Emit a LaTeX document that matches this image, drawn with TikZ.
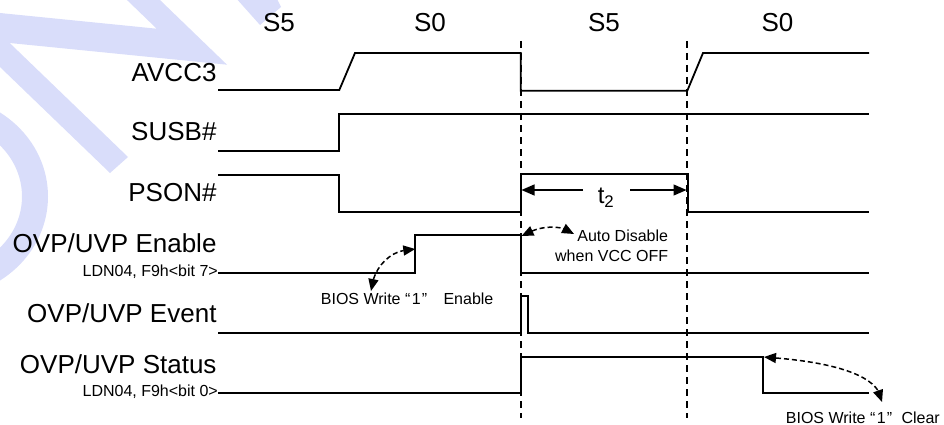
\documentclass[tikz,border=0pt]{standalone}
\usepackage{fontspec}
\setmainfont{Liberation Sans}
\usetikzlibrary{arrows.meta}
\definecolor{wm}{RGB}{217,221,250}
\tikzset{
  wave/.style={line width=1.8pt, line join=miter},
  guide/.style={line width=1.8pt, dash pattern=on 7pt off 5pt},
  note/.style={line width=1.5pt, dash pattern=on 5pt off 3pt},
  notetip/.style={line width=1.5pt, solid, -{Triangle[length=12pt,width=10pt]}},
  dim/.style={line width=1.3pt, -{Triangle[length=13pt,width=11pt]}},
  big/.style={font=\fontsize{26}{30}\selectfont, inner sep=0pt},
  small/.style={font=\fontsize{16}{19.3}\selectfont, inner sep=0pt},
}
\begin{document}
\begin{tikzpicture}[x=1pt,y=-1pt]
\useasboundingbox (0,0) rectangle (944,425);
% watermark
\begin{scope}
\clip (0,0) rectangle (944,425);
\fill[wm] (-5,12.5) -- (156.7,28.7) -- (121.8,-5) -- (154.8,-5) -- (227,64.7)
  -- (9.7,43) -- (128,157) -- (110,173) -- (-5,62.2) -- cycle;
\fill[wm] (235,-3) -- (276,-3) -- (281,7) -- (260,25) -- cycle;
\draw[wm, line width=26pt] (-60,196.5) ellipse [x radius=95, y radius=88];
\end{scope}
% state labels
\node[big, anchor=base] (s5a) at (279,32) {S5};
\node[big, anchor=base] (s0a) at (430,32) {S0};
\node[big, anchor=base] (s5b) at (604,32) {S5};
\node[big, anchor=base] (s0b) at (777.5,32) {S0};
% signal labels
\node[big, anchor=base east] (avcc) at (216.7,81.7) {AVCC3};
\node[big, anchor=base east] (susb) at (216.7,140.3) {SUSB\#};
\node[big, anchor=base east] (pson) at (216.7,201.3) {PSON\#};
\node[big, anchor=base east] (ena) at (216.7,252.5) {OVP/UVP Enable};
\node[small, anchor=base east] (enareg) at (218,276) {LDN04, F9h<bit 7>};
\node[big, anchor=base east] (evt) at (216.7,322.3) {OVP/UVP Event};
\node[big, anchor=base east] (sts) at (216.7,373) {OVP/UVP Status};
\node[small, anchor=base east] (stsreg) at (218,396.5) {LDN04, F9h<bit 0>};
% guides
\draw[guide] (520.7,41) -- (520.7,418);
\draw[guide] (687.3,41) -- (687.3,418);
% waveforms
\draw[wave] (218,90) -- (339.3,90) -- (355,53) -- (520.7,53) -- (520.7,90.7)
  -- (687.3,90.7) -- (703,53) -- (869,53);
\draw[wave] (218,150.7) -- (339.3,150.7) -- (339.3,114) -- (869,114);
\draw[wave] (218,175) -- (339.3,175) -- (339.3,212.3) -- (520.7,212.3)
  -- (520.7,174.3) -- (687.7,174.3) -- (687.7,212.3) -- (869,212.3);
\draw[wave] (218,272.7) -- (415.3,272.7) -- (415.3,235.3) -- (520.7,235.3)
  -- (520.7,272.7) -- (869,272.7);
\draw[wave] (218,333) -- (520.7,333) -- (520.7,295.7) -- (528.3,295.7)
  -- (528.3,333) -- (869,333);
\draw[wave] (218,393.3) -- (520.7,393.3) -- (520.7,356.7) -- (763.3,356.7)
  -- (763.3,393.3) -- (869,393.3);
% t2
\node[font=\fontsize{24}{28}\selectfont, inner sep=0pt, anchor=base] (t2) at (606,203.3) {t\textsubscript{2}};
\coordinate (t2l) at (583,190);
\coordinate (t2r) at (630,190);
\coordinate (g1) at (521.5,190);
\coordinate (g2) at (686.5,190);
\draw[dim] (t2l) -- (g1);
\draw[dim] (t2r) -- (g2);
% notes
\node[small, anchor=base west] (biosen) at (320.7,304) {BIOS Write “\kern1.5pt{}1\kern1pt”\kern12pt{} Enable};
\node[small, anchor=base east, align=right] (auto) at (668.3,261) {Auto Disable\\when VCC OFF};
\node[small, anchor=base east] (biosclr) at (940,423) {BIOS Write “\kern1.5pt{}1\kern1pt”\kern5pt{} Clear};
\coordinate (a1s) at (371,291);
\coordinate (a1b) at (373.5,279);
\coordinate (a1e) at (415.3,249);
\coordinate (a1c) at (403.5,250.5);
\coordinate (a2s) at (521.5,236);
\coordinate (a2b) at (532,231);
\coordinate (a2e) at (574,234);
\coordinate (a2c) at (563.5,228.5);
\coordinate (a3s) at (764,357);
\coordinate (a3b) at (776,358);
\coordinate (a3e) at (882,402);
\coordinate (a3c) at (878,390.5);
\draw[note] (a1b) .. controls (378,265) and (390,253) .. (a1c);
\draw[note] (a2b) .. controls (542,227) and (553,226) .. (a2c);
\draw[note] (a3b) .. controls (825,362) and (866,372) .. (a3c);
\draw[notetip] (a1b) -- (a1s);
\draw[notetip] (a1c) -- (a1e);
\draw[notetip] (a2b) -- (a2s);
\draw[notetip] (a2c) -- (a2e);
\draw[notetip] (a3b) -- (a3s);
\draw[notetip] (a3c) -- (a3e);
\end{tikzpicture}
\end{document}
